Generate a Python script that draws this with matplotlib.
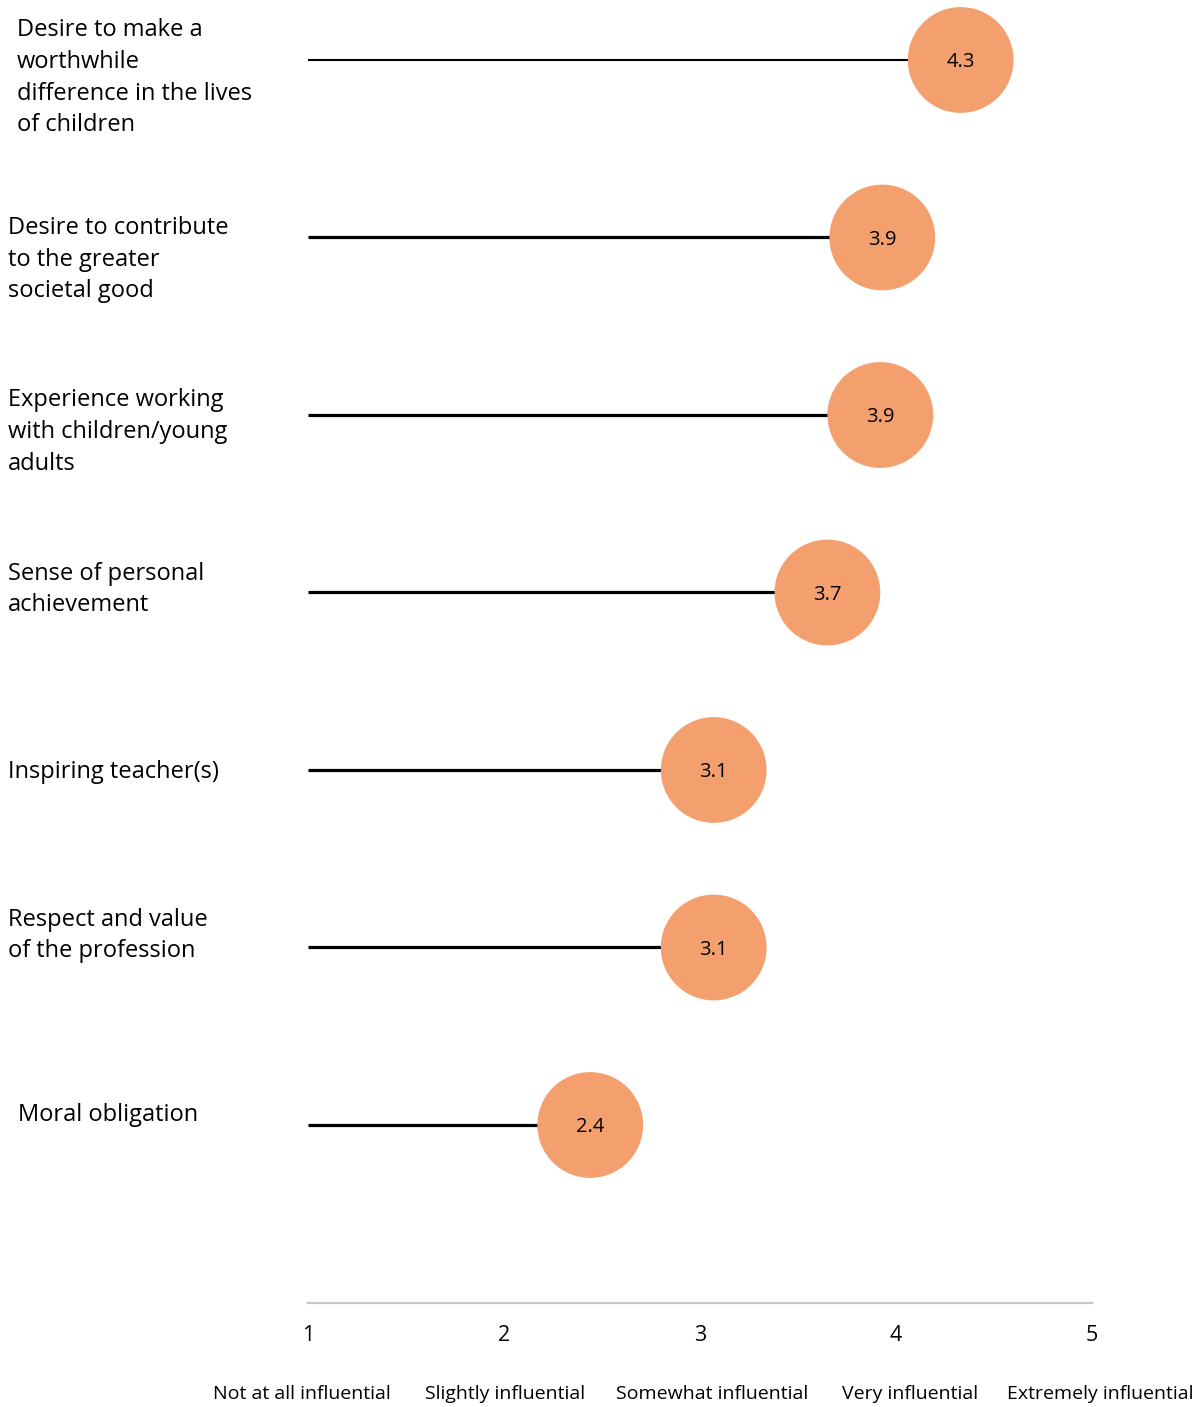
import matplotlib.pyplot as plt

# data
factors = [
    "Desire to make a\nworthwhile\ndifference in the lives\nof children",
    "Desire to contribute\nto the greater\nsocietal good",
    "Experience working\nwith children/young\nadults",
    "Sense of personal\nachievement",
    "Inspiring teacher(s)",
    "Respect and value\nof the profession",
    "Moral obligation",
]
scores = [4.33, 3.93, 3.92, 3.65, 3.07, 3.07, 2.44]
score_labels = ["4.3", "3.9", "3.9", "3.7", "3.1", "3.1", "2.4"]
scale_ticks = [1, 2, 3, 4, 5]
scale_names = ["Not at all influential", "Slightly influential",
               "Somewhat influential", "Very influential", "Extremely influential"]

# layout tweaks (label x and vertical nudge, in axis units)
label_x = [-0.485, -0.531, -0.531, -0.531, -0.531, -0.531, -0.480]
label_dy = [0.10, 0.124, 0.096, -0.017, 0.011, -0.068, -0.056]
stem_width = [1.5, 2.3, 2.3, 2.3, 2.3, 2.3, 2.3]
name_dx = [-0.03, 0.005, 0.06, 0.07, 0.04]

plt.rcParams['font.family'] = ['Open Sans', 'DejaVu Sans']
orange = "#F4A06E"

fig = plt.figure(figsize=(12.02, 14.07), dpi=100)
ax = fig.add_axes([0, 0, 1, 1])
ax.set_xlim(1 - 308 / 196, 1 + 894 / 196)
ax.set_ylim((1407 - 60) / 177.5, -60 / 177.5)
ax.axis("off")

for i, (name, val, lab) in enumerate(zip(factors, scores, score_labels)):
    ax.plot([1, val], [i, i], color="black", lw=stem_width[i], zorder=1,
            solid_capstyle="butt")
    ax.scatter([val], [i], s=5800, color=orange, edgecolors="none", zorder=2)
    ax.text(val, i + 0.012, lab, ha="center", va="center", fontsize=14.5, zorder=3)
    ax.text(label_x[i], i + label_dy[i], name, ha="left", va="center",
            fontsize=17, linespacing=1.43)

# bottom scale
ax.plot([1, 5], [7.003, 7.003], color="#c8c8c8", lw=1.6)
for t, nm, dx in zip(scale_ticks, scale_names, name_dx):
    ax.text(t, 7.188, str(t), ha="center", va="center", fontsize=15.5)
    ax.text(t + dx, 7.518, nm, ha="center", va="center", fontsize=14)

fig.savefig("out.png", dpi=100)
